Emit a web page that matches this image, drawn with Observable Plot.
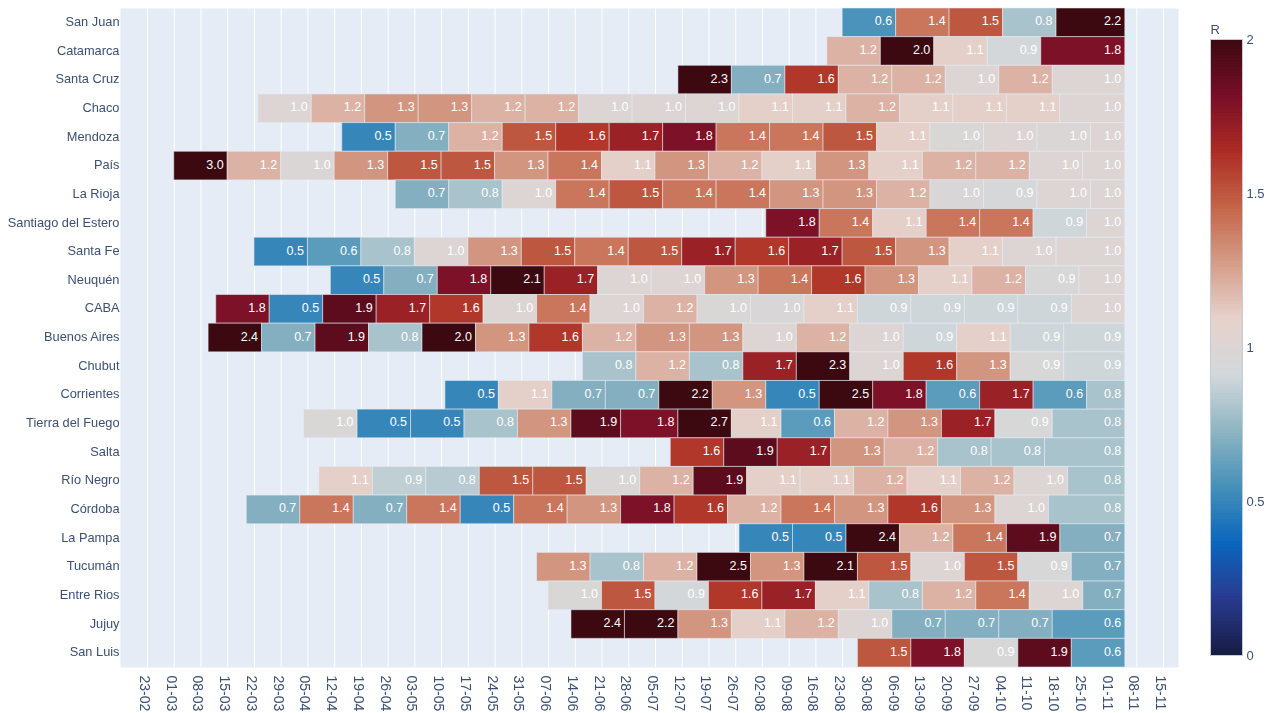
<!DOCTYPE html>
<html>
<head>
<meta charset="utf-8">
<script src="https://cdn.jsdelivr.net/npm/d3@7"></script>
<script src="https://cdn.jsdelivr.net/npm/@observablehq/plot@0.6"></script>
<style>
html,body{margin:0;padding:0;background:#fff;overflow:hidden}
#chart{position:relative;width:1273px;height:713px;filter:blur(0.4px)}
#chart svg{display:block}
#bar{position:absolute;left:1190px;top:18px}
</style>
</head>
<body>
<div id="chart"><div id="main"></div><div id="bar"></div></div>
<script>
const provinces = ["San Juan","Catamarca","Santa Cruz","Chaco","Mendoza","País","La Rioja","Santiago del Estero","Santa Fe","Neuquén","CABA","Buenos Aires","Chubut","Corrientes","Tierra del Fuego","Salta","Río Negro","Córdoba","La Pampa","Tucumán","Entre Rios","Jujuy","San Luis"];

// first day of each window, in days after 23-02-2020
const startDays = [
  [182,196,210,224,238],
  [178,192,206,220,234],
  [139,153,167,181,195,209,223,237],
  [29,43,57,71,85,99,113,127,141,155,169,183,197,211,225,239],
  [51,65,79,93,107,121,135,149,163,177,191,205,219,233,247],
  [7,21,35,49,63,77,91,105,119,133,147,161,175,189,203,217,231,245],
  [65,79,93,107,121,135,149,163,177,191,205,219,233,247],
  [162,176,190,204,218,232,246],
  [28,42,56,70,84,98,112,126,140,154,168,182,196,210,224,238],
  [48,62,76,90,104,118,132,146,160,174,188,202,216,230,244],
  [18,32,46,60,74,88,102,116,130,144,158,172,186,200,214,228,242],
  [16,30,44,58,72,86,100,114,128,142,156,170,184,198,212,226,240],
  [114,128,142,156,170,184,198,212,226,240],
  [78,92,106,120,134,148,162,176,190,204,218,232,246],
  [41,55,69,83,97,111,124,139,153,166,180,194,208,222,237],
  [137,151,165,179,193,207,221,235],
  [45,59,73,87,101,115,129,143,157,171,185,199,213,227,241],
  [26,40,54,68,82,96,110,124,138,152,166,180,194,208,222,236],
  [155,169,183,197,211,225,239],
  [102,116,130,144,158,172,186,200,214,228,242],
  [105,119,133,147,161,175,189,203,217,231,245],
  [111,125,139,153,167,181,195,209,223,237],
  [186,200,214,228,242]
];
const lastDay = 256;

const rValues = [
  [0.56,1.4,1.5,0.8,2.2],
  [1.2,2.0,1.1,0.93,1.8],
  [2.3,0.7,1.6,1.2,1.2,1.0,1.2,1.0],
  [1.0,1.2,1.3,1.3,1.2,1.2,1.0,1.0,1.0,1.1,1.1,1.2,1.1,1.1,1.1,1.0],
  [0.5,0.7,1.2,1.5,1.6,1.7,1.8,1.4,1.4,1.5,1.1,0.97,1.0,0.98,1.0],
  [3.0,1.2,0.98,1.3,1.5,1.5,1.3,1.4,1.1,1.3,1.2,1.1,1.3,1.1,1.2,1.2,1.0,1.0],
  [0.7,0.8,1.0,1.4,1.5,1.4,1.4,1.3,1.3,1.2,0.96,0.94,1.0,1.0],
  [1.8,1.4,1.1,1.4,1.4,0.9,1.0],
  [0.5,0.6,0.8,1.0,1.3,1.5,1.4,1.5,1.7,1.6,1.7,1.5,1.3,1.1,1.0,1.0],
  [0.5,0.7,1.8,2.1,1.7,1.0,1.0,1.3,1.4,1.6,1.3,1.1,1.2,0.95,1.0],
  [1.8,0.5,1.9,1.7,1.6,1.0,1.4,1.0,1.2,0.97,0.96,1.1,0.9,0.9,0.9,0.9,1.0],
  [2.4,0.7,1.9,0.8,2.0,1.3,1.6,1.2,1.3,1.3,1.0,1.2,1.0,0.9,1.1,0.9,0.9],
  [0.8,1.2,0.8,1.7,2.3,1.0,1.6,1.3,0.95,0.9],
  [0.5,1.1,0.7,0.7,2.2,1.3,0.5,2.5,1.8,0.6,1.7,0.6,0.8],
  [0.97,0.5,0.5,0.8,1.3,1.9,1.8,2.7,1.1,0.6,1.2,1.3,1.7,0.95,0.8],
  [1.6,1.9,1.7,1.3,1.2,0.8,0.8,0.8],
  [1.1,0.86,0.84,1.5,1.5,0.97,1.2,1.9,1.1,1.1,1.2,1.1,1.2,1.0,0.8],
  [0.7,1.4,0.7,1.4,0.5,1.4,1.3,1.8,1.6,1.2,1.4,1.3,1.6,1.3,1.0,0.8],
  [0.5,0.5,2.4,1.2,1.4,1.9,0.7],
  [1.3,0.8,1.2,2.5,1.3,2.1,1.5,1.0,1.5,0.95,0.7],
  [0.97,1.5,0.93,1.6,1.7,1.1,0.8,1.2,1.4,1.0,0.7],
  [2.4,2.2,1.3,1.1,1.2,1.0,0.7,0.7,0.7,0.6],
  [1.5,1.8,0.95,1.9,0.6]
];

const balance = ["rgb(23,28,66)","rgb(41,58,143)","rgb(11,102,189)","rgb(69,144,185)","rgb(142,181,194)","rgb(210,216,219)","rgb(230,210,204)","rgb(213,157,137)","rgb(196,101,72)","rgb(172,43,36)","rgb(120,14,40)","rgb(60,9,17)"];
const tickLabels = ["23-02","01-03","08-03","15-03","22-03","29-03","05-04","12-04","19-04","26-04","03-05","10-05","17-05","24-05","31-05","07-06","14-06","21-06","28-06","05-07","12-07","19-07","26-07","02-08","09-08","16-08","23-08","30-08","06-09","13-09","20-09","27-09","04-10","11-10","18-10","25-10","01-11","08-11","15-11"];
const colorTicks = [0,0.5,1,1.5,2];

const day = n => new Date(Date.UTC(2020,1,23) + n*864e5);
const tickDates = tickLabels.map(s => { const [d,m] = s.split("-").map(Number); return new Date(Date.UTC(2020,m-1,d)); });
const bars = provinces.flatMap((p,i) => startDays[i].map((s,j) => ({
  province:p, start:day(s), end:day(j+1<startDays[i].length ? startDays[i][j+1] : lastDay), r:rValues[i][j]
})));

const font = '"Liberation Sans", Arial, sans-serif';
const ink = "#3b5072";
const colorOpts = {type:"linear", domain:balance.map((_,i)=>2*i/(balance.length-1)), range:balance, interpolate:"rgb", clamp:true};

document.getElementById("main").append(Plot.plot({
  width:1273, height:713,
  marginLeft:120, marginRight:95, marginTop:8, marginBottom:46,
  style:{fontFamily:font, fontSize:"13px", background:"transparent"},
  x:{type:"utc", domain:[day(-7.07), day(269.93)], label:null},
  y:{domain:provinces, padding:0, round:false, label:null},
  color:colorOpts,
  marks:[
    Plot.frame({fill:"#e5ecf6", stroke:null}),
    Plot.gridX(tickDates,{stroke:"#fff", strokeOpacity:1, strokeWidth:1}),
    Plot.barX(bars,{x1:"start", x2:"end", y:"province", fill:"r", stroke:"#e5ecf6", strokeWidth:1, strokeOpacity:0.55}),
    Plot.text(bars,{x:"end", y:"province", text:d=>d.r.toFixed(1), textAnchor:"end", dx:-4, dy:-1.5, fill:"#fff", fontSize:12.5}),
    Plot.axisY({tickSize:0, tickPadding:1, dy:-1, color:ink, fontSize:12.8, label:null}),
    Plot.axisX(tickDates,{tickSize:0, tickPadding:8, tickRotate:90, dx:-3, tickFormat:d3.utcFormat("%d-%m"), color:ink, fontSize:14, label:null})
  ]
}));

const steps = d3.range(0,2,0.01);
document.getElementById("bar").append(Plot.plot({
  width:83, height:660,
  marginLeft:20, marginRight:31, marginTop:21, marginBottom:23,
  style:{fontFamily:font, fontSize:"13px", background:"transparent", overflow:"visible"},
  x:{domain:[0,1], axis:null},
  y:{domain:[0,2], label:null},
  color:colorOpts,
  marks:[
    Plot.rect(steps,{x1:0, x2:1, y1:d=>d, y2:d=>Math.min(d+0.02,2), fill:d=>d+0.005}),
    Plot.frame({stroke:"#c4ccd6", strokeWidth:1}),
    Plot.axisY({anchor:"right", ticks:colorTicks, tickFormat:d=>String(d), tickSize:0, tickPadding:4, color:ink, fontSize:13, label:null}),
    Plot.text(["R"],{frameAnchor:"top-left", dy:-15, dx:0, fill:ink, fontSize:13, textAnchor:"start"})
  ]
}));
</script>
</body>
</html>
